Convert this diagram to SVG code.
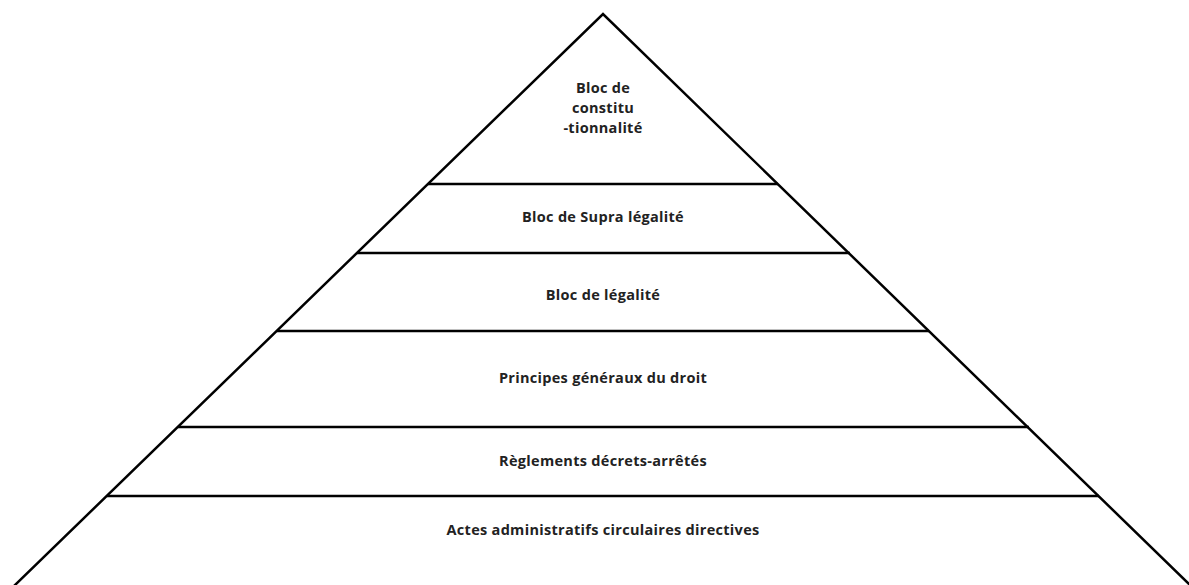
<svg xmlns="http://www.w3.org/2000/svg" width="1189" height="585" viewBox="0 0 1189 585">
<style>
.ln{stroke:#000;stroke-width:2.5;fill:none;stroke-linecap:butt}
.t{font-family:"Open Sans","Liberation Sans",sans-serif;font-weight:bold;font-size:14.5px;letter-spacing:0.3px;fill:#222;text-anchor:middle}
</style>
<rect width="1189" height="585" fill="#fff"/>
<g id="connectors">
<polyline class="ln" points="14,586 603,14 1191,586" stroke-linejoin="miter"/>
<line class="ln" x1="428" y1="184" x2="778" y2="184"/>
<line class="ln" x1="357" y1="253" x2="850" y2="253"/>
<line class="ln" x1="277" y1="331" x2="929" y2="331"/>
<line class="ln" x1="178" y1="427" x2="1029" y2="427"/>
<line class="ln" x1="107" y1="496" x2="1099" y2="496"/>
</g>
<g id="n1"><text class="t" x="603" y="93">Bloc de</text><text class="t" x="603" y="113">constitu</text><text class="t" x="603" y="133">-tionnalité</text></g>
<g id="n2"><text class="t" x="603" y="222">Bloc de Supra légalité</text></g>
<g id="n3"><text class="t" x="603" y="300">Bloc de légalité</text></g>
<g id="n4"><text class="t" x="603" y="383">Principes généraux du droit</text></g>
<g id="n5"><text class="t" x="603" y="466">Règlements décrets-arrêtés</text></g>
<g id="n6"><text class="t" x="603" y="535">Actes administratifs circulaires directives</text></g>
</svg>
